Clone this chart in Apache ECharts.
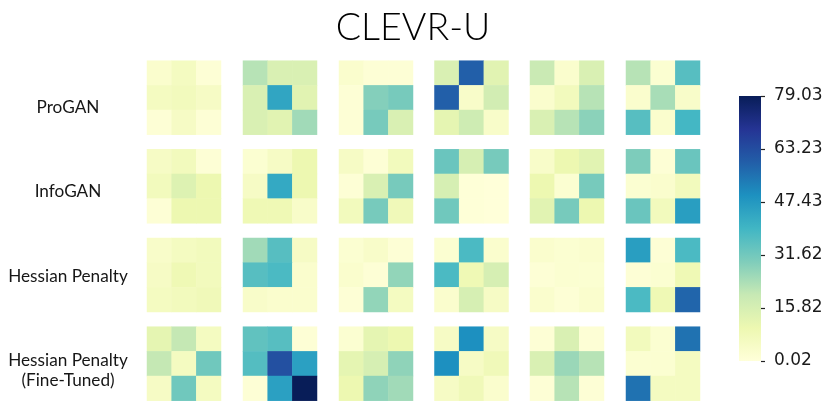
<!DOCTYPE html>
<html>
<head>
<meta charset="utf-8">
<script src="https://cdn.jsdelivr.net/npm/echarts@6/dist/echarts.min.js"></script>
<style>html,body{margin:0;padding:0;background:#fff;}#c{width:830px;height:407px;}</style>
</head>
<body>
<div id="c"></div>
<script>
// ---- data (each panel: 3x3 matrix flattened row-major, top row first) ----
const title = 'CLEVR-U';
const rowLabels = ['ProGAN', 'InfoGAN', 'Hessian Penalty', 'Hessian Penalty\n(Fine-Tuned)'];
const proGAN = [
  [3, 6, 1, 6, 7, 5, 1, 5, 1],
  [22, 15, 15, 15, 44, 13, 15, 13, 25],
  [3, 1, 1, 1, 29, 31, 1, 31, 15],
  [15, 59, 13, 59, 4, 17, 12, 18, 4],
  [19, 3, 15, 3, 7, 22, 15, 22, 28],
  [22, 2, 36, 3, 24, 4, 36, 3, 39]
];
const infoGAN = [
  [5, 7, 1, 7, 14, 10, 1, 10, 10],
  [2, 5, 10, 5, 43, 10, 9, 9, 4],
  [5, 1, 7, 1, 15, 31, 7, 31, 8],
  [33, 16, 31, 16, 0.5, 0.1, 32, 0.5, 0.1],
  [4, 10, 13, 10, 2, 31, 13, 31, 10],
  [30, 1, 33, 2, 3, 7, 33, 7, 46]
];
const hessian = [
  [4, 6, 7, 5, 9, 7, 6, 7, 8],
  [25, 36, 5, 36, 38, 3, 4, 3, 3],
  [2, 4, 1, 3, 1, 27, 1, 27, 6],
  [2, 38, 3, 38, 9, 16, 3, 16, 5],
  [3, 2, 3, 1, 2, 2, 3, 1, 3],
  [46, 1, 38, 1, 2, 9, 38, 9, 58]
];
const hessianFT = [
  [12, 20, 6, 20, 6, 32, 5, 32, 6],
  [34.5, 36, 1, 36.5, 62.5, 45.5, 1, 45.5, 79.03],
  [2, 12, 10, 12, 16, 27.5, 10, 27.5, 25],
  [5, 49.5, 5, 49.5, 5, 8, 5, 8, 3],
  [1, 15, 1, 15, 26, 22, 1, 22, 1],
  [7, 2, 55.5, 2, 2, 6, 55.5, 6, 6]
];
const colorMin = 0.02, colorMax = 79.03;
const colorbarTicks = ['0.02', '15.82', '31.62', '47.43', '63.23', '79.03'];
const ylgnbu = ['#ffffd9', '#edf8b1', '#c7e9b4', '#7fcdbb', '#41b6c4', '#1d91c0', '#225ea8', '#253494', '#081d58'];

// ---- layout ----
const rowsData = [proGAN, infoGAN, hessian, hessianFT];
const colLeft = [147, 243, 339, 434.5, 530, 626];
const rowTop = [60.7, 149.3, 238, 326.7];
const panelSize = 74;
const cats = ['0', '1', '2'];

const grids = [], xAxes = [], yAxes = [], series = [];
rowsData.forEach((rowPanels, r) => {
  rowPanels.forEach((vals, c) => {
    const idx = grids.length;
    grids.push({left: colLeft[c], top: rowTop[r], width: panelSize, height: panelSize});
    xAxes.push({type: 'category', data: cats, gridIndex: idx, show: false});
    yAxes.push({type: 'category', data: cats, gridIndex: idx, show: false, inverse: true});
    const d = [];
    vals.forEach((v, k) => d.push([k % 3, Math.floor(k / 3), v]));
    series.push({type: 'heatmap', xAxisIndex: idx, yAxisIndex: idx, data: d,
      itemStyle: {borderWidth: 0}, emphasis: {disabled: true}, silent: true});
  });
});

// colorbar: a grid filled with the colormap gradient plus a value axis for its ticks
const cbIdx = grids.length;
const cbLeft = 739, cbTop = 96, cbW = 22, cbH = 265;
const stops = ylgnbu.map((col, i) => ({offset: i / (ylgnbu.length - 1), color: col}));
grids.push({left: cbLeft, top: cbTop, width: cbW, height: cbH, show: true, borderWidth: 0,
  backgroundColor: new echarts.graphic.LinearGradient(0, 1, 0, 0, stops)});
xAxes.push({type: 'value', gridIndex: cbIdx, show: false, min: 0, max: 1});
yAxes.push({type: 'value', gridIndex: cbIdx, position: 'right', min: 0, max: colorbarTicks.length - 1, interval: 1,
  axisLine: {show: false, onZero: false}, splitLine: {show: false},
  axisTick: {show: true, inside: false, length: 4, lineStyle: {color: '#222', width: 1.2}},
  axisLabel: {margin: 13, fontFamily: 'DejaVu Sans', fontSize: 17, color: '#1a1a1a',
    formatter: v => colorbarTicks[Math.round(v)]}});

const titles = [{text: title, left: 408, top: 4, textAlign: 'center',
  textStyle: {fontFamily: 'Lato', fontWeight: 300, fontSize: 37.5, color: '#000'}}];
const labelY = [96, 180, 265, 349];
rowLabels.forEach((t, i) => {
  titles.push({text: t, left: 63, top: labelY[i] - 3, textAlign: 'center',
    textStyle: {fontFamily: 'Lato', fontWeight: 400, fontSize: 17.2, color: '#161616', lineHeight: 19.5, align: 'center'}});
});

const chart = echarts.init(document.getElementById('c'), null, {renderer: 'canvas'});
chart.setOption({
  animation: false,
  backgroundColor: '#fff',
  title: titles,
  grid: grids,
  xAxis: xAxes,
  yAxis: yAxes,
  visualMap: {
    type: 'continuous', min: colorMin, max: colorMax, show: false,
    seriesIndex: series.map((s, i) => i),
    inRange: {color: ylgnbu}
  },
  series: series
});
</script>
</body>
</html>
